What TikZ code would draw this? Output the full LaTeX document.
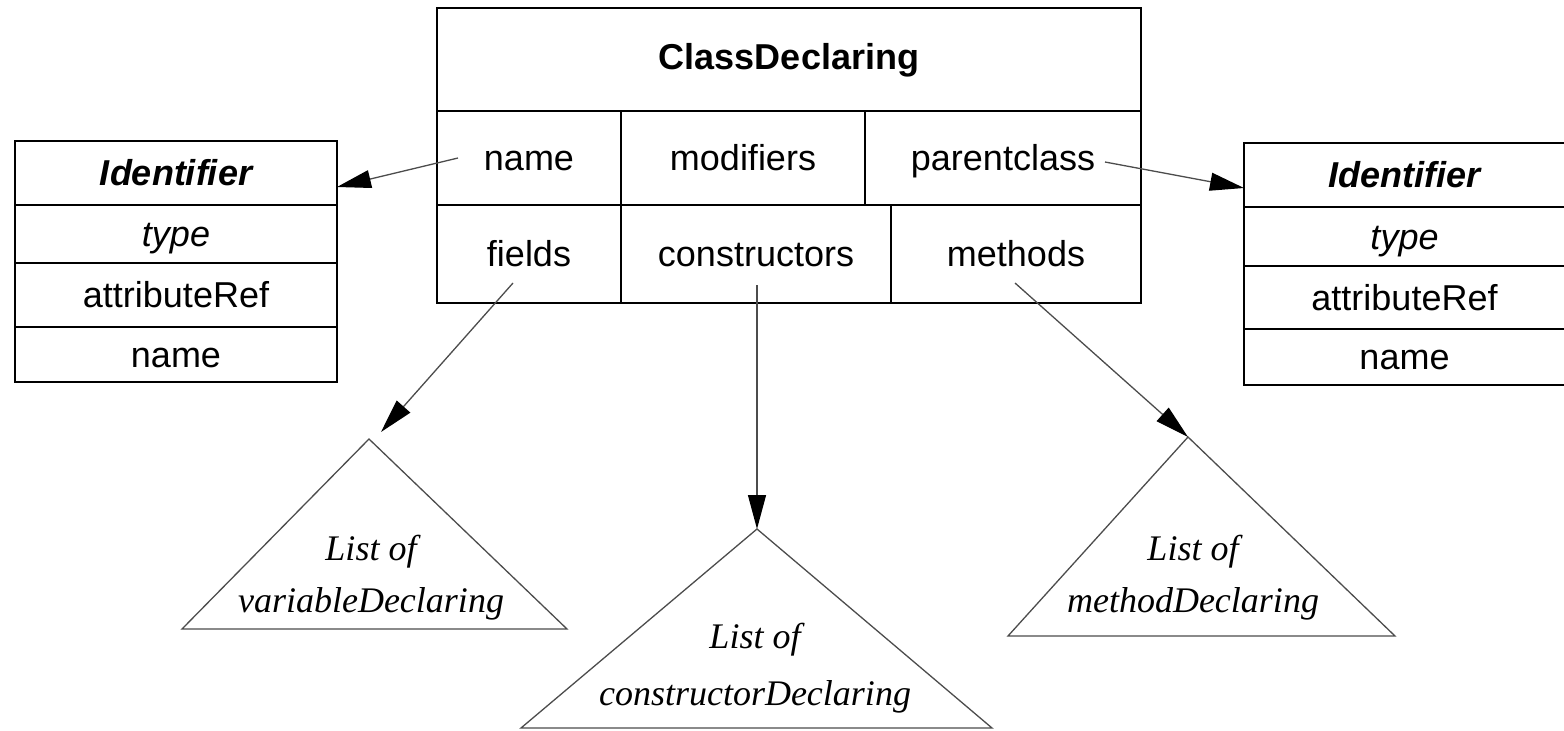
\documentclass[tikz,border=0pt]{standalone}
\usepackage{fontspec}
\setmainfont{Liberation Serif}
\setsansfont{Liberation Sans}
\usetikzlibrary{arrows.meta,calc}
\begin{document}
\begin{tikzpicture}[x=1pt,y=-1pt,
  cell/.style={draw=black,line width=1.8pt,inner sep=0pt,outer sep=0pt,
    font=\sffamily\fontsize{36}{40}\selectfont,text height=26pt,text depth=1pt},
  conn/.style={draw=black!70,line width=1.3pt,-{Triangle[length=34pt,width=18pt,black]}},
  tri/.style={draw=black!70,line width=1.3pt,line join=miter},
  tlabel/.style={align=center,inner sep=0pt,font=\itshape\fontsize{36}{52}\selectfont}
]
\useasboundingbox (0,0) rectangle (1564,731);
\clip (0,0) rectangle (1564,731);

% left Identifier
\node[cell,minimum width=322pt,minimum height=64pt] (idLt) at (176,173) {\bfseries\itshape Identifier};
\node[cell,minimum width=322pt,minimum height=58pt] (idLa) at (176,234) {\itshape type};
\node[cell,minimum width=322pt,minimum height=64pt] (idLb) at (176,295) {attributeRef};
\node[cell,minimum width=322pt,minimum height=55pt] (idLc) at (176,354.5) {name};

% right Identifier
\node[cell,minimum width=321pt,minimum height=64pt] (idRt) at (1404.5,175) {\bfseries\itshape Identifier};
\node[cell,minimum width=321pt,minimum height=59pt] (idRa) at (1404.5,236.5) {\itshape type};
\node[cell,minimum width=321pt,minimum height=63pt] (idRb) at (1404.5,297.5) {attributeRef};
\node[cell,minimum width=321pt,minimum height=56pt] (idRc) at (1404.5,357) {name};

% ClassDeclaring
\node[cell,minimum width=704pt,minimum height=103pt,text depth=7pt,text height=27pt] (cd) at (789,59.5) {\bfseries ClassDeclaring};
\node[cell,minimum width=184pt,minimum height=94pt] (nm) at (529,158) {name};
\node[cell,minimum width=244pt,minimum height=94pt] (md) at (743,158) {modifiers};
\node[cell,minimum width=276pt,minimum height=94pt] (pc) at (1003,158) {parentclass};
\node[cell,minimum width=184pt,minimum height=98pt] (fd) at (529,254) {fields};
\node[cell,minimum width=270pt,minimum height=98pt] (cs) at (756,254) {constructors};
\node[cell,minimum width=250pt,minimum height=98pt] (mt) at (1016,254) {methods};

% triangles
\coordinate (t1a) at (369,439);
\coordinate (t1l) at (182,629);
\coordinate (t1r) at (567,629);
\coordinate (t2a) at (757,529);
\coordinate (t2l) at (521,728);
\coordinate (t2r) at (992,728);
\coordinate (t3a) at (1188,437);
\coordinate (t3l) at (1008,636);
\coordinate (t3r) at (1395,636);
\draw[tri] (t1a) -- (t1l) -- (t1r) -- cycle;
\draw[tri] (t2a) -- (t2l) -- (t2r) -- cycle;
\draw[tri] (t3a) -- (t3l) -- (t3r) -- cycle;
\node[tlabel] (l1) at (371,578) {List of\\variableDeclaring};
\node[tlabel,font=\itshape\fontsize{36}{57}\selectfont] (l2) at (755,668) {List of\\constructorDeclaring};
\node[tlabel] (l3) at (1193,578) {List of\\methodDeclaring};

% connectors
\draw[conn] ($(nm.west)+(21,0)$) -- ($(idLt.east)+(0,14)$);
\draw[conn] ($(pc.east)+(-36,4)$) -- ($(idRt.west)+(0,13)$);
\draw[conn] ($(fd.center)+(-16,29)$) -- ($(t1a)+(12,-7)$);
\draw[conn] ($(cs.center)+(1,31)$) -- (t2a);
\draw[conn] ($(mt.center)+(-1,29)$) -- (t3a);
\end{tikzpicture}
\end{document}
